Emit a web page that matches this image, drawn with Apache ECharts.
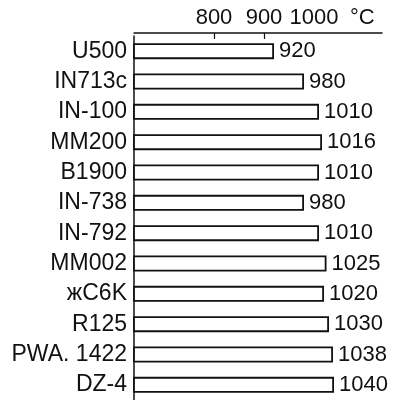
<!DOCTYPE html>
<html>
<head>
<meta charset="utf-8">
<script src="https://cdn.jsdelivr.net/npm/echarts@6/dist/echarts.min.js"></script>
<style>
  html, body { margin: 0; padding: 0; background: #fff; }
  #chart { width: 404px; height: 400px; }
</style>
</head>
<body>
<div id="chart"></div>
<script>
const alloys = ['U500', 'IN713c', 'IN-100', 'MM200', 'B1900', 'IN-738', 'IN-792', 'MM002', 'жC6K', 'R125', 'PWA. 1422', 'DZ-4'];
const tempC = [920, 980, 1010, 1016, 1010, 980, 1010, 1025, 1020, 1030, 1038, 1040];
const tickValues = [800, 900, 1000];
const unitLabel = '°C';

const font = '"Liberation Sans", Arial, Helvetica, sans-serif';
const ink = '#111';

function createOptions() {
    return {
        animation: false,
        backgroundColor: '#fff',
        grid: {
            left: 134,
            right: 22,
            top: 36,
            bottom: -6
        },
        xAxis: {
            type: 'value',
            position: 'top',
            min: 640,
            max: 1136,
            offset: 3,
            axisLine: { show: true, lineStyle: { color: ink, width: 1.5 } },
            axisTick: {
                show: true,
                inside: true,
                length: 6,
                customValues: [800, 900],
                lineStyle: { color: ink, width: 1.2 }
            },
            axisLabel: {
                customValues: tickValues,
                formatter: (v) => String(v),
                color: ink,
                fontSize: 22,
                fontFamily: font,
                margin: 4
            },
            splitLine: { show: false },
            name: unitLabel,
            nameLocation: 'end',
            nameGap: -32,
            nameTextStyle: {
                color: ink,
                fontSize: 22,
                fontFamily: font,
                verticalAlign: 'bottom',
                padding: [0, 0, 4, 0]
            }
        },
        yAxis: {
            type: 'category',
            inverse: true,
            data: alloys,
            axisLine: { show: true, lineStyle: { color: ink, width: 1.5 } },
            axisTick: { show: false },
            axisLabel: {
                color: ink,
                fontSize: 23,
                fontFamily: font,
                margin: 7
            }
        },
        series: [
            {
                type: 'bar',
                data: tempC,
                barWidth: 16,
                itemStyle: {
                    color: '#fff',
                    borderColor: ink,
                    borderWidth: 1.8
                },
                label: {
                    show: true,
                    position: 'right',
                    distance: 5,
                    color: ink,
                    fontSize: 22,
                    fontFamily: font
                }
            }
        ]
    };
}

const chart = echarts.init(document.getElementById('chart'), null, { renderer: 'canvas' });
chart.setOption(createOptions());
</script>
</body>
</html>
